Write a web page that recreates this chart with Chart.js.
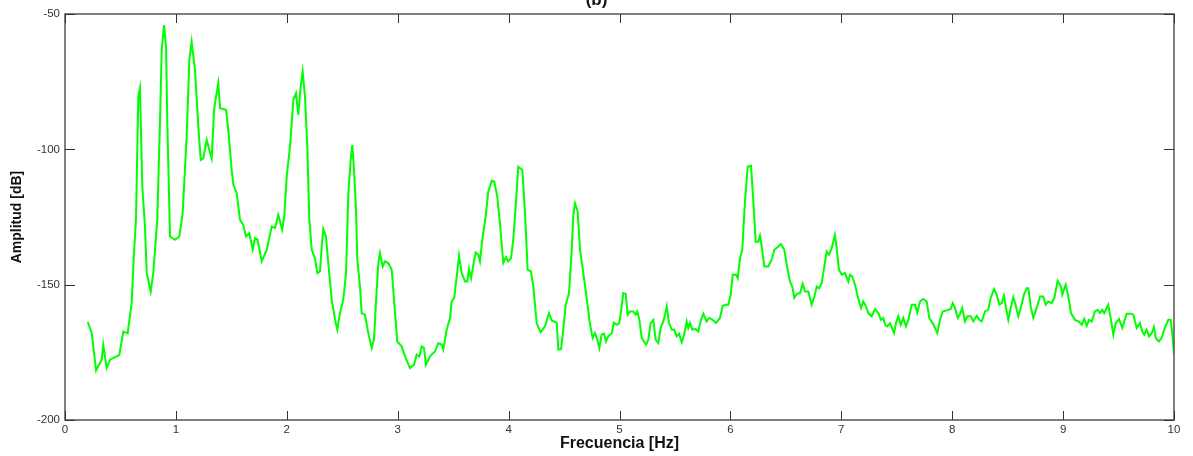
<!DOCTYPE html>
<html>
<head>
<meta charset="utf-8">
<script src="https://cdn.jsdelivr.net/npm/chart.js@4/dist/chart.umd.min.js"></script>
<style>
  html, body { margin: 0; padding: 0; background: #fff; }
  #c { display: block; }
</style>
</head>
<body>
<canvas id="c" width="1193" height="456"></canvas>
<script>
// Spectrum: frequency (Hz) and amplitude (dB)
const freq = [
  0.205,0.241,0.280,0.331,0.345,0.376,0.406,0.466,0.490,0.526,
  0.565,0.601,0.622,0.640,0.661,0.676,0.697,0.721,0.737,0.773,
  0.796,0.832,0.857,0.872,0.893,0.911,0.922,0.947,0.992,1.031,
  1.061,1.097,1.121,1.142,1.172,1.202,1.224,1.247,1.278,1.301,
  1.323,1.344,1.362,1.382,1.398,1.452,1.472,1.503,1.518,1.548,
  1.578,1.608,1.632,1.662,1.693,1.713,1.736,1.774,1.819,1.864,
  1.894,1.923,1.959,1.977,1.999,2.029,2.059,2.083,2.104,2.125,
  2.143,2.164,2.185,2.203,2.225,2.254,2.275,2.299,2.315,2.329,
  2.353,2.374,2.405,2.435,2.455,2.480,2.509,2.534,2.555,2.576,
  2.591,2.606,2.624,2.636,2.660,2.675,2.705,2.735,2.766,2.786,
  2.804,2.825,2.840,2.865,2.885,2.915,2.946,2.967,2.996,3.036,
  3.066,3.111,3.147,3.171,3.195,3.216,3.237,3.255,3.291,3.336,
  3.366,3.397,3.411,3.442,3.472,3.487,3.510,3.532,3.553,3.577,
  3.607,3.628,3.643,3.661,3.682,3.703,3.727,3.742,3.763,3.793,
  3.817,3.848,3.871,3.898,3.922,3.952,3.977,3.997,4.022,4.042,
  4.064,4.087,4.124,4.148,4.172,4.202,4.223,4.253,4.289,4.328,
  4.364,4.389,4.434,4.448,4.473,4.493,4.515,4.545,4.569,4.583,
  4.599,4.623,4.644,4.674,4.704,4.728,4.749,4.758,4.779,4.800,
  4.818,4.839,4.860,4.878,4.899,4.930,4.950,4.975,4.998,5.020,
  5.034,5.056,5.074,5.095,5.124,5.146,5.161,5.179,5.200,5.239,
  5.260,5.281,5.305,5.326,5.350,5.371,5.395,5.410,5.426,5.446,
  5.471,5.491,5.516,5.537,5.561,5.582,5.606,5.620,5.636,5.656,
  5.687,5.710,5.735,5.756,5.786,5.810,5.840,5.870,5.906,5.930,
  5.960,5.981,6.003,6.021,6.051,6.066,6.087,6.107,6.132,6.156,
  6.186,6.206,6.228,6.252,6.267,6.282,6.306,6.342,6.372,6.396,
  6.432,6.456,6.486,6.508,6.537,6.558,6.576,6.598,6.628,6.652,
  6.673,6.702,6.733,6.757,6.778,6.799,6.823,6.847,6.868,6.889,
  6.913,6.943,6.958,6.979,7.004,7.033,7.063,7.078,7.099,7.124,
  7.148,7.178,7.198,7.223,7.243,7.274,7.304,7.334,7.358,7.379,
  7.394,7.415,7.439,7.475,7.493,7.514,7.536,7.559,7.583,7.604,
  7.635,7.665,7.685,7.710,7.739,7.770,7.793,7.824,7.845,7.866,
  7.890,7.914,7.950,7.986,8.004,8.025,8.050,8.070,8.091,8.115,
  8.136,8.167,8.190,8.221,8.244,8.266,8.296,8.325,8.347,8.377,
  8.401,8.425,8.446,8.467,8.485,8.506,8.528,8.551,8.575,8.596,
  8.618,8.647,8.672,8.686,8.710,8.731,8.762,8.792,8.821,8.843,
  8.866,8.897,8.921,8.951,8.981,8.993,9.023,9.047,9.071,9.107,
  9.143,9.168,9.191,9.213,9.233,9.258,9.287,9.312,9.333,9.353,
  9.371,9.407,9.432,9.453,9.474,9.504,9.534,9.573,9.612,9.633,
  9.664,9.693,9.714,9.732,9.754,9.775,9.799,9.820,9.835,9.865,
  9.887,9.917,9.949,9.970,9.984,10.000
];

const amp = [
  -163.8,-167.9,-181.7,-177.7,-172.2,-180.8,-177.7,-176.5,-175.9,-167.3,
  -167.9,-156.8,-138.3,-126.0,-80.5,-77.4,-113.8,-128.5,-145.7,-152.5,
  -145.7,-126.0,-89.1,-63.3,-54.1,-62.1,-89.1,-132.2,-133.4,-132.2,
  -123.6,-95.3,-67.0,-60.2,-70.7,-91.6,-103.9,-103.3,-96.5,-100.2,
  -103.3,-85.4,-80.5,-75.6,-84.8,-85.4,-92.8,-107.6,-113.1,-116.2,
  -126.0,-127.9,-132.2,-131.0,-137.1,-132.8,-133.4,-141.4,-137.1,-128.5,
  -129.1,-124.2,-129.7,-124.8,-110.1,-99.0,-81.7,-79.3,-87.3,-76.8,
  -71.3,-80.5,-99.0,-126.0,-137.1,-140.2,-145.7,-145.1,-135.9,-129.5,
  -132.2,-142.0,-155.6,-163.0,-166.6,-160.5,-155.6,-145.7,-116.2,-103.9,
  -98.4,-107.6,-122.4,-140.8,-150.7,-160.5,-161.1,-167.9,-173.4,-170.3,
  -156.8,-142.0,-138.3,-143.3,-141.4,-142.0,-144.5,-155.6,-171.0,-172.8,
  -176.5,-180.8,-179.6,-175.9,-176.5,-172.8,-173.4,-179.6,-176.5,-174.7,
  -171.6,-172.2,-174.0,-166.6,-162.3,-156.2,-154.9,-147.0,-139.3,-145.7,
  -148.8,-148.8,-144.2,-147.6,-142.7,-138.1,-139.0,-141.4,-133.4,-124.8,
  -115.6,-111.6,-111.9,-117.4,-127.3,-142.0,-139.8,-141.4,-140.2,-133.4,
  -121.1,-106.4,-107.6,-123.6,-144.5,-145.1,-150.7,-164.2,-167.6,-165.4,
  -160.5,-163.2,-164.0,-174.0,-173.8,-166.6,-157.4,-153.1,-137.1,-124.8,
  -119.9,-123.0,-137.1,-145.7,-154.9,-163.0,-167.9,-169.7,-167.9,-170.3,
  -173.4,-168.5,-168.1,-171.0,-169.1,-167.9,-164.0,-164.8,-164.2,-158.0,
  -153.1,-153.4,-161.1,-159.9,-159.9,-161.1,-159.9,-163.0,-169.7,-172.2,
  -170.3,-164.2,-163.0,-170.3,-171.6,-166.0,-163.6,-161.1,-158.0,-164.2,
  -166.6,-166.6,-169.1,-168.1,-171.3,-168.5,-163.6,-166.0,-164.2,-166.6,
  -166.4,-167.3,-163.0,-160.7,-163.6,-162.3,-163.0,-164.2,-162.3,-157.8,
  -157.4,-157.4,-153.7,-146.3,-146.3,-147.6,-140.2,-137.1,-118.7,-106.4,
  -106.1,-118.7,-134.1,-134.1,-131.9,-135.9,-143.3,-143.3,-140.8,-137.1,
  -135.9,-135.0,-137.1,-142.7,-148.8,-150.7,-154.9,-153.5,-153.1,-149.7,
  -152.5,-152.5,-157.4,-154.4,-150.7,-151.3,-149.4,-143.3,-137.7,-139.0,
  -136.5,-131.6,-136.5,-144.5,-146.3,-145.7,-148.8,-146.3,-147.0,-150.0,
  -154.4,-158.6,-156.2,-158.0,-160.5,-161.7,-159.0,-160.5,-163.0,-162.3,
  -164.8,-165.4,-164.2,-167.9,-164.2,-161.7,-164.8,-162.3,-165.4,-163.0,
  -157.4,-157.4,-160.3,-156.2,-155.3,-156.2,-162.3,-164.2,-166.0,-167.9,
  -163.0,-159.9,-159.5,-159.0,-156.8,-158.6,-162.3,-160.9,-158.6,-163.6,
  -161.7,-161.7,-163.6,-161.5,-163.0,-163.6,-159.9,-159.3,-154.9,-151.6,
  -153.7,-157.4,-156.8,-154.1,-158.6,-163.0,-158.6,-154.6,-158.0,-161.7,
  -158.6,-153.7,-151.3,-151.3,-158.6,-162.3,-158.6,-154.4,-154.4,-157.4,
  -156.2,-156.8,-154.9,-148.6,-150.7,-153.7,-150.0,-154.4,-160.5,-163.0,
  -163.6,-164.8,-162.7,-165.2,-163.0,-163.6,-159.9,-159.3,-160.5,-159.3,
  -160.5,-157.4,-163.0,-168.5,-164.2,-162.7,-166.0,-160.7,-160.7,-161.1,
  -166.0,-164.2,-167.3,-168.5,-166.6,-169.1,-167.9,-165.7,-169.7,-171.0,
  -169.7,-166.0,-163.0,-163.0,-167.9,-175.9
];

// Axis ticks and texts
const xTicks = [0, 1, 2, 3, 4, 5, 6, 7, 8, 9, 10];
const yTicks = [-200, -150, -100, -50];
const chartTitle = '(b)';
const xTitle = 'Frecuencia [Hz]';
const yTitle = 'Amplitud [dB]';

const points = freq.map((f, i) => ({ x: f, y: amp[i] }));

// Box around the plot with inward tick marks on all four sides, plus the panel title
const framePlugin = {
  id: 'frame',
  afterDraw(chart) {
    const { ctx, chartArea: a, scales: { x, y } } = chart;
    ctx.save();
    ctx.strokeStyle = '#555';
    ctx.lineWidth = 1.5;
    ctx.strokeRect(a.left, a.top, a.right - a.left, a.bottom - a.top);

    ctx.strokeStyle = '#333';
    ctx.lineWidth = 1;
    ctx.beginPath();
    xTicks.forEach(v => {
      const px = Math.round(x.getPixelForValue(v)) + 0.5;
      ctx.moveTo(px, a.bottom); ctx.lineTo(px, a.bottom - 9);
      ctx.moveTo(px, a.top); ctx.lineTo(px, a.top + 9);
    });
    yTicks.forEach(v => {
      const py = Math.round(y.getPixelForValue(v)) + 0.5;
      ctx.moveTo(a.left, py); ctx.lineTo(a.left + 10, py);
      ctx.moveTo(a.right, py); ctx.lineTo(a.right - 10, py);
    });
    ctx.stroke();

    ctx.fillStyle = '#111';
    ctx.font = 'bold 17px "Liberation Sans", Arial, sans-serif';
    ctx.textAlign = 'center';
    ctx.textBaseline = 'alphabetic';
    ctx.fillText(chartTitle, chart.width / 2, 5);
    ctx.restore();
  }
};

const tickFont = { family: '"Liberation Sans", Arial, sans-serif', size: 11.5 };
const titleFont = { family: '"Liberation Sans", Arial, sans-serif', weight: 'bold' };

new Chart(document.getElementById('c'), {
  type: 'line',
  data: {
    datasets: [{
      data: points,
      borderColor: '#00ff00',
      borderWidth: 2,
      pointRadius: 0,
      tension: 0,
      fill: false
    }]
  },
  options: {
    responsive: false,
    animation: false,
    devicePixelRatio: 1,
    layout: { padding: { top: 14, right: 19, left: 0, bottom: 0 } },
    plugins: { legend: { display: false }, tooltip: { enabled: false } },
    scales: {
      x: {
        type: 'linear',
        min: 0,
        max: 10,
        afterBuildTicks: s => { s.ticks = xTicks.map(v => ({ value: v })); },
        afterFit: s => { s.height = 36; },
        ticks: { color: '#333', font: tickFont, padding: 3, maxRotation: 0, autoSkip: false },
        grid: { display: false, drawTicks: false },
        border: { display: false },
        title: { display: true, text: xTitle, color: '#111', font: { ...titleFont, size: 16 }, padding: { top: 0, bottom: 3 } }
      },
      y: {
        type: 'linear',
        min: -200,
        max: -50,
        afterBuildTicks: s => { s.ticks = yTicks.map(v => ({ value: v })); },
        afterFit: s => { s.width = 65; },
        ticks: { color: '#333', font: tickFont, padding: 5 },
        grid: { display: false, drawTicks: false },
        border: { display: false },
        title: { display: true, text: yTitle, color: '#111', font: { ...titleFont, size: 14 }, padding: { top: 9, bottom: 0 } }
      }
    }
  },
  plugins: [framePlugin]
});
</script>
</body>
</html>
